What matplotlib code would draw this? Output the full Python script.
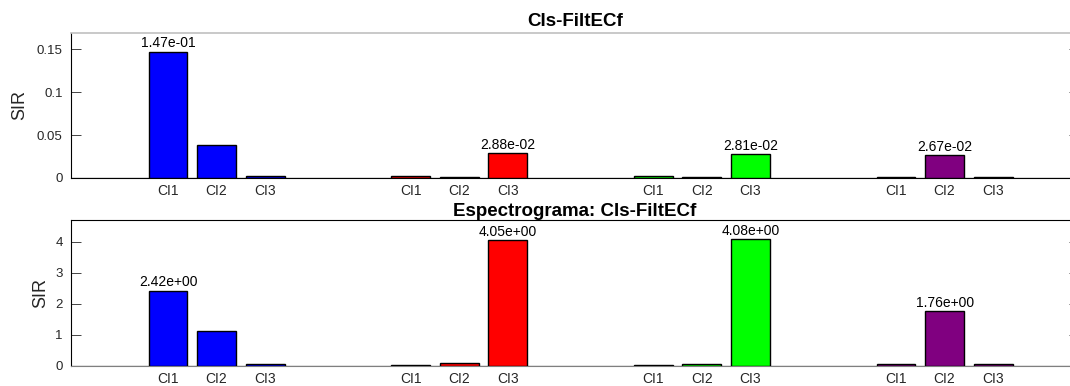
import matplotlib.pyplot as plt
import numpy as np

plt.rcParams['font.family'] = ['Liberation Sans', 'DejaVu Sans']

clases = ["CI1", "CI2", "CI3"]
colores = [(0, 0, 1), (1, 0, 0), (0, 1, 0), (0.5, 0, 0.5)]

# SIR por grupo (4 grupos x 3 clases)
sir_filt = [
    [0.147, 0.0387, 0.0018],
    [0.0018, 0.0007, 0.0288],
    [0.0018, 0.0007, 0.0281],
    [0.0011, 0.0267, 0.0009],
]
sir_espec = [
    [2.42, 1.12, 0.08],
    [0.045, 0.11, 4.05],
    [0.04, 0.08, 4.08],
    [0.065, 1.76, 0.05],
]
# grupo/clase con etiqueta de valor
destacados = [(0, 0), (1, 2), (2, 2), (3, 1)]
destacados_espec = [(0, 0), (1, 2), (2, 2), (3, 1)]

titulos = ["CIs-FiltECf", "Espectrograma: CIs-FiltECf"]
ylims = [(0, 0.169), (0, 4.7)]
yticks = [[0, 0.05, 0.1, 0.15], [0, 1, 2, 3, 4]]
yticklabels = [["0", "0.05", "0.1", "0.15"], ["0", "1", "2", "3", "4"]]
ylabel_x = [28, 49]

W, H = 1070, 386
fig = plt.figure(figsize=(W / 100, H / 100), dpi=100)
ax1 = fig.add_axes([71 / W, 1 - 178 / H, 1008 / W, 145 / H])
ax2 = fig.add_axes([71 / W, 1 - 366 / H, 1008 / W, 146 / H])

gris = '#262626'

for k, (ax, datos, marcas) in enumerate([(ax1, sir_filt, destacados),
                                         (ax2, sir_espec, destacados_espec)]):
    xs, etiquetas = [], []
    for g, fila in enumerate(datos):
        pos = np.arange(3) + 1 + 5 * g
        ax.bar(pos, fila, width=0.8, color=colores[g], edgecolor='black',
               linewidth=1.0, zorder=3)
        xs += list(pos)
        etiquetas += clases
    for g, c in marcas:
        v = datos[g][c]
        ax.annotate(f"{v:.2e}", (1 + 5 * g + c, v), xytext=(0, 1),
                    textcoords='offset points', ha='center', va='bottom',
                    fontsize=10, color='black')
    ax.axhline(0, color='#7f7f7f', linewidth=1.0, zorder=2)
    ax.set_xlim(-1, 19.77)
    ax.set_ylim(*ylims[k])
    ax.set_xticks(xs)
    ax.set_xticklabels(etiquetas, fontsize=10, color=gris)
    ax.tick_params(axis='x', length=0, pad=4)
    ax.set_yticks(yticks[k])
    ax.set_yticklabels(yticklabels[k], fontsize=9.5, color=gris)
    ax.tick_params(axis='y', direction='in', length=7, width=0.6,
                   right=True, pad=6, colors=gris)
    ax.set_ylabel("SIR", fontsize=13, color=gris)
    ax.yaxis.set_label_coords((ylabel_x[k] - 71) / 1008, 0.5)
    for lado in ax.spines.values():
        lado.set_linewidth(0.8)
        lado.set_color('black')

ax1.set_title(titulos[0], fontsize=13.5, fontweight='bold', pad=5)
ax2.set_title(titulos[1], fontsize=13.5, fontweight='bold', pad=2)

# borde superior del primer panel en gris claro
ax1.spines['top'].set_color('#c0c0c0')
ax1.spines['top'].set_linewidth(1.2)
ax2.spines['bottom'].set_color('#7f7f7f')

fig.savefig("out.png", dpi=100)
